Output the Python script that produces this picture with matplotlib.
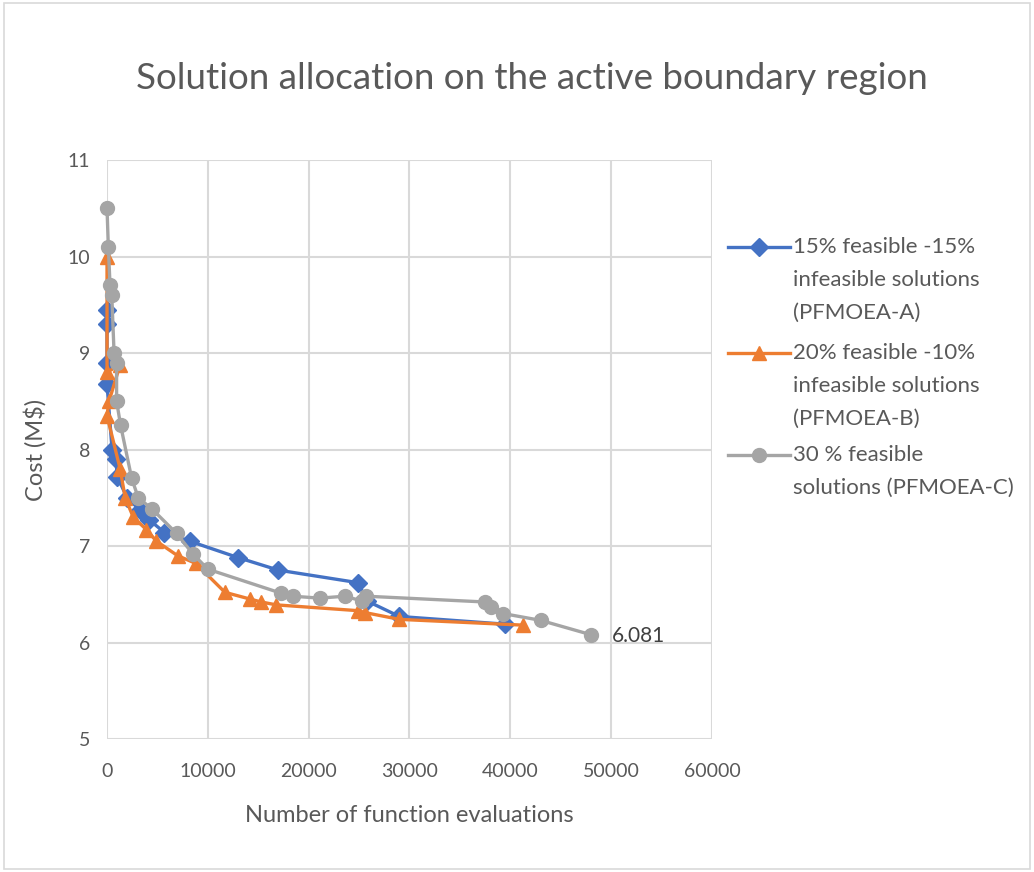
import matplotlib
matplotlib.use("Agg")
import matplotlib.pyplot as plt
from matplotlib.patches import Rectangle
from matplotlib.lines import Line2D

plt.rcParams['font.family'] = ['Lato', 'DejaVu Sans']

# PFMOEA-A : 15% feasible - 15% infeasible
nfe_a = [0, 0, 0, 0, 500, 900, 1000, 2000, 3300, 4200, 5700, 8200,
         13000, 17000, 24900, 25800, 29000, 39500]
cost_a = [9.45, 9.3, 8.9, 8.68, 8.0, 7.9, 7.72, 7.5, 7.37, 7.27, 7.14, 7.05,
          6.88, 6.75, 6.62, 6.43, 6.27, 6.19]

# PFMOEA-B : 20% feasible - 10% infeasible
nfe_b = [0, 0, 1300, 200, 0, 1300, 1800, 2600, 3900, 4900, 7000, 8800,
         11700, 14200, 15300, 16800, 24900, 25600, 29000, 41300]
cost_b = [10.0, 8.8, 8.88, 8.5, 8.35, 7.8, 7.5, 7.3, 7.17, 7.05, 6.9, 6.82,
          6.52, 6.45, 6.42, 6.39, 6.33, 6.31, 6.24, 6.18]

# PFMOEA-C : 30% feasible
nfe_c = [0, 130, 300, 470, 700, 950, 950, 1350, 2450, 3100, 4500, 6900,
         8500, 10000, 17300, 18400, 21100, 23600, 25300, 25700, 37500,
         38100, 39300, 43000, 48000]
cost_c = [10.5, 10.1, 9.7, 9.6, 9.0, 8.9, 8.5, 8.25, 7.7, 7.5, 7.38, 7.13,
          6.92, 6.76, 6.51, 6.48, 6.46, 6.48, 6.43, 6.48, 6.42,
          6.37, 6.30, 6.23, 6.081]

labels = [["15% feasible -15%", "infeasible solutions", "(PFMOEA-A)"],
          ["20% feasible -10%", "infeasible solutions", "(PFMOEA-B)"],
          ["30 % feasible", "solutions (PFMOEA-C)"]]

colors = ['#4472C4', '#ED7D31', '#A5A5A5']
markers = ['D', '^', 'o']
msizes = [9, 10.5, 10]

txt = '#595959'
grid = '#D9D9D9'
W, H = 1034, 872

fig = plt.figure(figsize=(10.34, 8.72), dpi=100)
fig.patches.append(Rectangle((0.004, 0.004), 0.992, 0.992, transform=fig.transFigure,
                             fill=False, edgecolor='#D9D9D9', linewidth=1.2))
ax = fig.add_axes([0.1035, 0.1525, 0.585, 0.664])

series = [(nfe_a, cost_a), (nfe_b, cost_b), (nfe_c, cost_c)]
for i, (xs, ys) in enumerate(series):
    ax.plot(xs, ys, color=colors[i], marker=markers[i], markersize=msizes[i],
            linewidth=2.4, zorder=3 + i, clip_on=False)

ax.annotate("6.081", (nfe_c[-1], cost_c[-1]), xytext=(15, -1), textcoords='offset points',
            va='center', ha='left', fontsize=15, color='#404040')

ax.set_xlim(0, 60000)
ax.set_ylim(5, 11)
ax.set_xticks(range(0, 60001, 10000))
ax.set_yticks(range(5, 12))
ax.grid(True, color=grid, linewidth=1.5)
ax.set_axisbelow(True)
for s in ax.spines.values():
    s.set_visible(False)
ax.tick_params(length=0, labelsize=14, colors=txt)
ax.tick_params(axis='x', pad=17)
ax.tick_params(axis='y', pad=12)

ax.set_xlabel("Number of function evaluations", fontsize=17, color=txt, labelpad=18)
ax.set_ylabel("Cost (M$)", fontsize=17, color=txt, labelpad=15)
fig.text(0.514, 0.91, "Solution allocation on the active boundary region",
         ha='center', va='center', fontsize=26.5, color=txt)

# legend drawn by hand so the handle sits on the first line of each entry
first_rows = [247, 353, 455]
row_gap = 33
for i, rows in enumerate(labels):
    yf = 1 - first_rows[i] / H
    fig.add_artist(Line2D([728 / W, 790 / W], [yf, yf], transform=fig.transFigure,
                          color=colors[i], linewidth=2.4))
    fig.add_artist(Line2D([759 / W], [yf], transform=fig.transFigure, color=colors[i],
                          marker=markers[i], markersize=msizes[i]))
    for j, line in enumerate(rows):
        fig.text(793 / W, 1 - (first_rows[i] + j * row_gap) / H, line,
                 ha='left', va='center', fontsize=16, color=txt)

fig.savefig("out.png", dpi=100)
